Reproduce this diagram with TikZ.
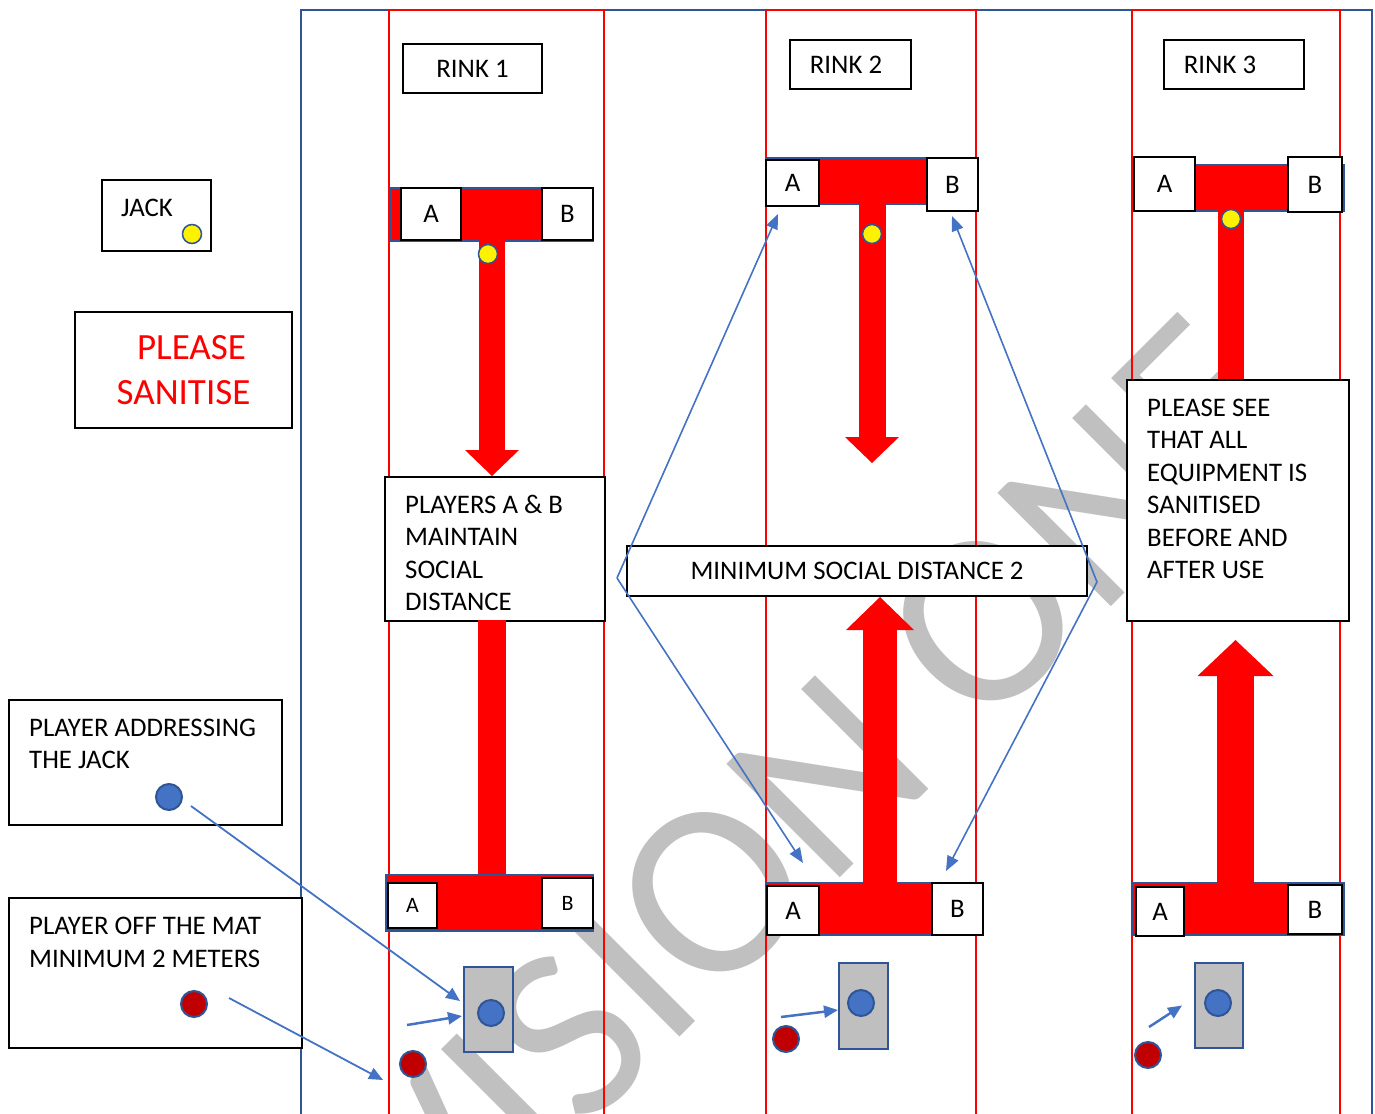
\documentclass[tikz,border=0pt]{standalone}
\usepackage{fontspec}
\setmainfont{Carlito}
\usepackage{tikz}
\usetikzlibrary{arrows.meta, positioning}

\definecolor{frameblue}{RGB}{47,85,151}
\definecolor{lineblue}{RGB}{68,114,196}
\definecolor{ballred}{RGB}{192,0,0}
\definecolor{matgray}{RGB}{191,191,191}
\definecolor{markgray}{RGB}{192,192,192}

\newcommand{\labelfont}{\fontsize{26.8}{32.5}\selectfont}
\newcommand{\smallabfont}{\fontsize{22}{26}\selectfont}

\tikzstyle{box2} = [rectangle, draw=black, line width=2pt, fill=white, inner sep=0pt, anchor=north west, font=\labelfont]
\tikzstyle{rinklabel} = [box2, minimum height=49pt]
\tikzstyle{note2} = [inner sep=0pt, align=left, font=\labelfont, anchor=north west]
\tikzstyle{tbar} = [rectangle, draw=frameblue, line width=2pt, fill=red, inner sep=0pt, anchor=north west]
\tikzstyle{mat} = [rectangle, draw=frameblue, line width=2pt, fill=matgray, inner sep=0pt, anchor=north west]
\tikzstyle{jack} = [circle, draw=frameblue, line width=1.5pt, fill=yellow, minimum size=19pt, inner sep=0pt]
\tikzstyle{bowl} = [circle, draw=frameblue, line width=2pt, fill=lineblue, minimum size=26pt, inner sep=0pt]
\tikzstyle{offbowl} = [circle, draw=frameblue, line width=2pt, fill=ballred, minimum size=26pt, inner sep=0pt]
\tikzstyle{shaft} = [red, line width=27pt, shorten <=-2pt]
\tikzstyle{arrow2} = [lineblue, line width=2.5pt, -{Triangle[length=14pt, width=12pt]}]
\tikzstyle{arrow3} = [lineblue, line width=1.6pt, -{Triangle[length=15pt, width=12pt]}]
\tikzstyle{rink} = [red, line width=2pt]

\begin{document}
\begin{tikzpicture}[x=1pt, y=-1pt]
  \clip (0,0) rectangle (1375,1113);

  % Watermark
  \node (mark) [text=markgray, font=\fontsize{250}{250}\selectfont, rotate=45, inner sep=0pt] at (736,868) {DIVISION ONE};

  % Frame and rinks
  \draw[frameblue, line width=2pt] (301,1125) -- (301,10) -- (1372,10) -- (1372,1125);
  \foreach \xa/\xb in {389/604, 766/976, 1132/1340}
    \draw[rink] (\xa,10) rectangle (\xb,1130);

  % Rink labels
  \node (rink1) [rinklabel, minimum width=139pt] at (402,43) {RINK 1};
  \node (rink2) [rinklabel, minimum width=121pt] at (789,39) {RINK 2\hspace*{9pt}};
  \node (rink3) [rinklabel, minimum width=140pt] at (1163,39) {RINK 3\hspace*{28pt}};

  % Left notes
  \node (jackbox) [box2, minimum width=109pt, minimum height=71pt] at (101,179) {};
  \node (jacktext) [note2, below right=19.5pt and 20pt of jackbox.north west] {JACK};
  \node (sanitise) [box2, minimum width=217pt, minimum height=116pt, align=center, text=red, font=\fontsize{37}{45}\selectfont] at (74,311) {\hspace*{16pt}PLEASE\\SANITISE};
  \node (addrbox) [box2, minimum width=273pt, minimum height=125pt] at (8,699) {};
  \node (addrtext) [note2, below right=19.5pt and 21pt of addrbox.north west] {PLAYER ADDRESSING\\THE JACK};
  \node (offbox) [box2, minimum width=293pt, minimum height=150pt] at (8,897) {};
  \node (offtext) [note2, below right=20pt and 21pt of offbox.north west] {PLAYER OFF THE MAT\\MINIMUM 2 METERS};

  % Rink notes
  \node (players) [box2, minimum width=220pt, minimum height=144pt] at (384,476) {};
  \node (playerstext) [note2, below right=18.5pt and 21pt of players.north west] {PLAYERS A \& B\\MAINTAIN\\SOCIAL\\DISTANCE};
  \node (mindist) [box2, minimum width=460pt, minimum height=50pt] at (626,545) {MINIMUM SOCIAL DISTANCE 2};
  \node (seebox) [box2, minimum width=222pt, minimum height=241pt] at (1126,379) {};
  \node (seetext) [note2, below right=19.5pt and 21pt of seebox.north west] {PLEASE SEE\\THAT ALL\\EQUIPMENT IS\\SANITISED\\BEFORE AND\\AFTER USE};

  % T bars
  \node (bar1top) [tbar, minimum width=202pt, minimum height=53pt] at (390,187) {};
  \node (bar2top) [tbar, minimum width=210pt, minimum height=46pt] at (766,157) {};
  \node (bar3top) [tbar, minimum width=210pt, minimum height=46pt] at (1133,164) {};
  \node (bar1bot) [tbar, minimum width=207pt, minimum height=56pt] at (385,874) {};
  \node (bar2bot) [tbar, minimum width=216pt, minimum height=52pt] at (766,882) {};
  \node (bar3bot) [tbar, minimum width=211pt, minimum height=52pt] at (1132,882) {};

  % Shafts
  \coordinate (tip2) at (872,463);
  \coordinate (tip3) at (1235,640);
  \draw[shaft, line width=26pt, -{Triangle[width=54pt, length=26pt, line width=0pt]}] (bar1top.south) -- (bar1top.south |- players.north);
  \draw[shaft, line width=28pt] (bar1top.south |- players.south) -- (bar1top.south |- bar1bot.north);
  \draw[shaft, -{Triangle[width=54pt, length=26pt, line width=0pt]}] (bar2top.south) -- (bar2top.south |- tip2);
  \draw[shaft, line width=34pt, -{Triangle[width=68pt, length=33pt, line width=0pt]}] ([xshift=5pt]bar2bot.north) -- ([xshift=5pt]bar2bot.north |- mindist.south);
  \draw[shaft, line width=26pt] ([xshift=-8pt]bar3top.south) -- ([xshift=-8pt]bar3top.south |- seebox.north);
  \draw[shaft, line width=37pt, -{Triangle[width=76pt, length=36pt, line width=0pt]}] ([xshift=-3pt]bar3bot.north) -- ([xshift=-3pt]bar3bot.north |- tip3);

  % A and B ends
  \node (a1top) [box2, minimum width=60pt, minimum height=52pt] at (400,187) {A};
  \node (b1top) [box2, minimum width=51pt, minimum height=52pt] at (541,187) {B};
  \node (a2top) [box2, minimum width=53pt, minimum height=46pt] at (765,159) {A};
  \node (b2top) [box2, minimum width=51pt, minimum height=53pt] at (926,157) {B};
  \node (a3top) [box2, minimum width=61pt, minimum height=54pt] at (1133,156) {A};
  \node (b3top) [box2, minimum width=54pt, minimum height=55pt] at (1287,156) {B};
  \node (a1bot) [box2, minimum width=49pt, minimum height=45pt, font=\smallabfont] at (387,882) {A};
  \node (b1bot) [box2, minimum width=51pt, minimum height=50pt, font=\smallabfont] at (541,877) {B};
  \node (a2bot) [box2, minimum width=52pt, minimum height=49pt] at (766,885) {A};
  \node (b2bot) [box2, minimum width=51pt, minimum height=52pt] at (931,882) {B};
  \node (a3bot) [box2, minimum width=48pt, minimum height=49pt] at (1135,886) {A};
  \node (b3bot) [box2, minimum width=54pt, minimum height=49pt] at (1287,884) {B};

  % Jacks
  \node (jack0) [jack] at (192,234) {};
  \node (jack1) [jack] at (488,254) {};
  \node (jack2) [jack] at (872,234) {};
  \node (jack3) [jack] at (1231,219) {};

  % Mats and bowls
  \node (mat1) [mat, minimum width=49pt, minimum height=85pt] at (463,966) {};
  \node (mat2) [mat, minimum width=49pt, minimum height=86pt] at (838,962) {};
  \node (mat3) [mat, minimum width=48pt, minimum height=85pt] at (1194,962) {};
  \node (bowl0) [bowl] at (169,797) {};
  \node (bowl1) [bowl] at (491,1013) {};
  \node (bowl2) [bowl] at (861,1003) {};
  \node (bowl3) [bowl] at (1218,1003) {};
  \node (red0) [offbowl] at (194,1004) {};
  \node (red1) [offbowl] at (413,1064) {};
  \node (red2) [offbowl] at (786,1039) {};
  \node (red3) [offbowl] at (1148,1055) {};

  % Distance lines
  \coordinate (dl) at (617,578);
  \coordinate (dr) at (1097,582);
  \coordinate (tl) at (778,214);
  \coordinate (tr) at (952,216);
  \coordinate (bl) at (803,863);
  \coordinate (br) at (946,871);
  \draw[arrow3] (dl) -- (tl);
  \draw[arrow3] (dl) -- (bl);
  \draw[arrow3] (dr) -- (tr);
  \draw[arrow3] (dr) -- (br);

  % Player arrows
  \draw[arrow2, line width=1.8pt] ([shift={(22pt,-9pt)}]bowl0.center) -- ([shift={(-3pt,8.5pt)}]mat1.west);
  \draw[arrow2, line width=1.8pt] ([shift={(35pt,6pt)}]red0.center) -- ([shift={(-30pt,-16pt)}]red1.center);
  \draw[arrow2] ([shift={(-6pt,39pt)}]red1.center) -- ([shift={(-1pt,-6.5pt)}]mat1.west);
  \draw[arrow2] ([shift={(-5pt,22pt)}]red2.center) -- ([yshift=-4pt]mat2.west);
  \draw[arrow2] ([shift={(1pt,28pt)}]red3.center) -- ([shift={(-12pt,0pt)}]mat3.west);
\end{tikzpicture}
\end{document}
